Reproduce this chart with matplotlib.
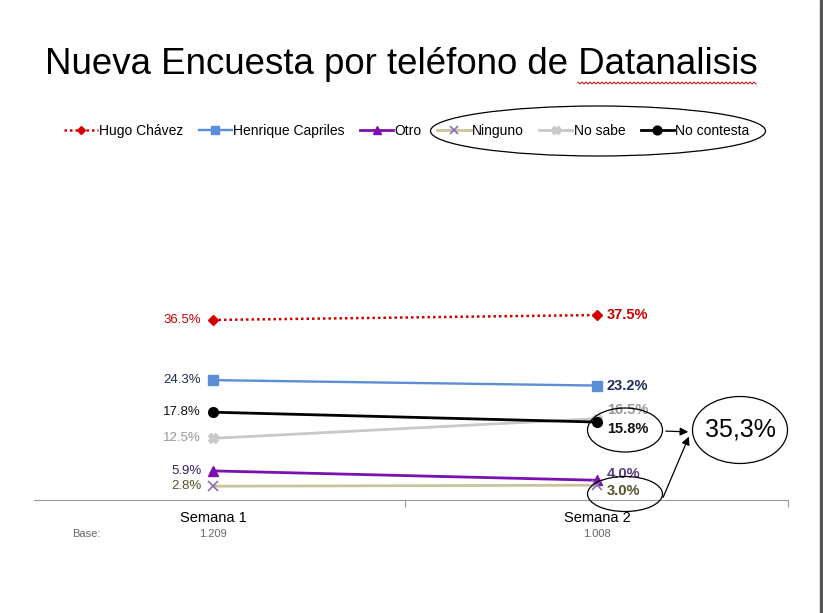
import numpy as np
import matplotlib
matplotlib.use("Agg")
import matplotlib.pyplot as plt
from matplotlib.patches import Ellipse, Rectangle, FancyArrowPatch
from matplotlib.lines import Line2D

plt.rcParams['font.family'] = ['Liberation Sans', 'DejaVu Sans']

# data
semanas = ['Semana 1', 'Semana 2']
bases = ['1.209', '1.008']
series = ['Hugo Chávez', 'Henrique Capriles', 'Otro', 'Ninguno', 'No sabe', 'No contesta']
chavez = [36.5, 37.5]
capriles = [24.3, 23.2]
otro = [5.9, 4.0]
ninguno = [2.8, 3.0]
no_sabe = [12.5, 16.5]
no_contesta = [17.8, 15.8]

W, H = 823, 613


def fx(px):
    return px / W


def fy(py):
    return 1 - py / H


fig = plt.figure(figsize=(W / 100, H / 100), dpi=100)
fig.patch.set_facecolor('white')
fig.patches.append(Rectangle((fx(820), 0), fx(3), 1, transform=fig.transFigure,
                             color='#555555', zorder=0))

ax = fig.add_axes([fx(34), fy(500), fx(788) - fx(34), fy(170) - fy(500)])
ax.set_xlim(-0.466, 1.497)
ax.set_ylim(0, 66.9)
x = np.arange(len(semanas))

styles = [
    (chavez, dict(color='#d40000', ls=(0, (1, 1.2)), lw=1.8, marker='D', ms=5)),
    (capriles, dict(color='#5b8ed6', lw=1.7, marker='s', ms=7)),
    (otro, dict(color='#7a10b0', lw=2, marker='^', ms=7)),
    (ninguno, dict(color='#c9c49c', lw=2, marker='x', ms=7, mec='#8a6fb0', mew=1.2)),
    (no_sabe, dict(color='#c8c8c8', lw=2, marker='X', ms=7)),
    (no_contesta, dict(color='#000000', lw=2, marker='o', ms=7)),
]
handles = []
for (vals, st), name in zip(styles, series):
    ln, = ax.plot(x, vals, label=name, zorder=3, **st)
    handles.append(ln)

left_colors = ['#cc0000', '#1f2d5a', '#3a1f5e', '#55502c', '#999999', '#111111']
right_colors = ['#cc0000', '#1f2d5a', '#5a3a80', '#55502c', '#999999', '#111111']
right_offsets = [0, 0, 1.3, -1.2, 1.7, -1.5]
for vals, lc, rc, dy in zip([s[0] for s in styles], left_colors, right_colors, right_offsets):
    ax.annotate(f'{vals[0]:.1f}%', (0, vals[0]), xytext=(-8.5, 0), textcoords='offset points',
                ha='right', va='center', fontsize=9.5, color=lc)
    ax.annotate(f'{vals[1]:.1f}%', (1, vals[1] + dy), xytext=(7, 0), textcoords='offset points',
                ha='left', va='center', fontsize=10.5, color=rc, fontweight='bold')

for s in ['top', 'right', 'left']:
    ax.spines[s].set_visible(False)
ax.spines['bottom'].set_color('#999999')
ax.set_yticks([])
ax.set_xticks([0.5, 1.497])
ax.tick_params(axis='x', which='major', length=5, color='#999999', labelbottom=False)
ax.set_xticks(x, minor=True)
ax.set_xticklabels(semanas, minor=True, fontsize=10.5)
ax.tick_params(axis='x', which='minor', length=0, pad=8)
for xi, b in zip(x, bases):
    ax.annotate(b, (xi, 0), xytext=(0, -24.5), textcoords='offset points',
                ha='center', va='center', fontsize=8, color='#666666')
ax.annotate('Base:', (-0.33, 0), xytext=(0, -24.5), textcoords='offset points',
            ha='center', va='center', fontsize=8, color='#666666')

# title with spell-check underline
fig.text(fx(45), fy(65), 'Nueva Encuesta por teléfono de Datanalisis', fontsize=26.4,
         ha='left', va='center')
zx = np.arange(578, 758, 2.0)
zy = 83 + np.where(np.arange(len(zx)) % 2 == 0, -1, 1)
fig.add_artist(Line2D(fx(zx), fy(zy), color='#d40000', lw=0.7, transform=fig.transFigure))

fig.legend(handles=handles, loc='center', bbox_to_anchor=(fx(407), fy(131)), ncol=6,
           frameon=False, fontsize=10, handlelength=2.4, handletextpad=0.1,
           columnspacing=1.1, markerscale=0.9)

# hand-drawn highlights
ell_kw = dict(fill=False, ec='black', lw=0.9, transform=fig.transFigure)
for cx, cy, w, h in [(598, 131, 335, 50), (625, 430, 75, 44), (625, 494, 75, 35),
                     (740, 430, 95, 67)]:
    fig.add_artist(Ellipse((fx(cx), fy(cy)), fx(w), h / H, **ell_kw))
total = ninguno[1] + no_sabe[1] + no_contesta[1]
fig.text(fx(740), fy(430), f'{total:.1f}%'.replace('.', ','), fontsize=18,
         ha='center', va='center')
arrow_kw = dict(arrowstyle='-|>', color='black', lw=0.9, mutation_scale=12)
fig.add_artist(FancyArrowPatch((fx(663), fy(431)), (fx(691), fy(432)),
                               transform=fig.transFigure, **arrow_kw))
fig.add_artist(FancyArrowPatch((fx(662), fy(500)), (fx(690), fy(434)),
                               transform=fig.transFigure, **arrow_kw))

fig.savefig('out.png', dpi=100)
